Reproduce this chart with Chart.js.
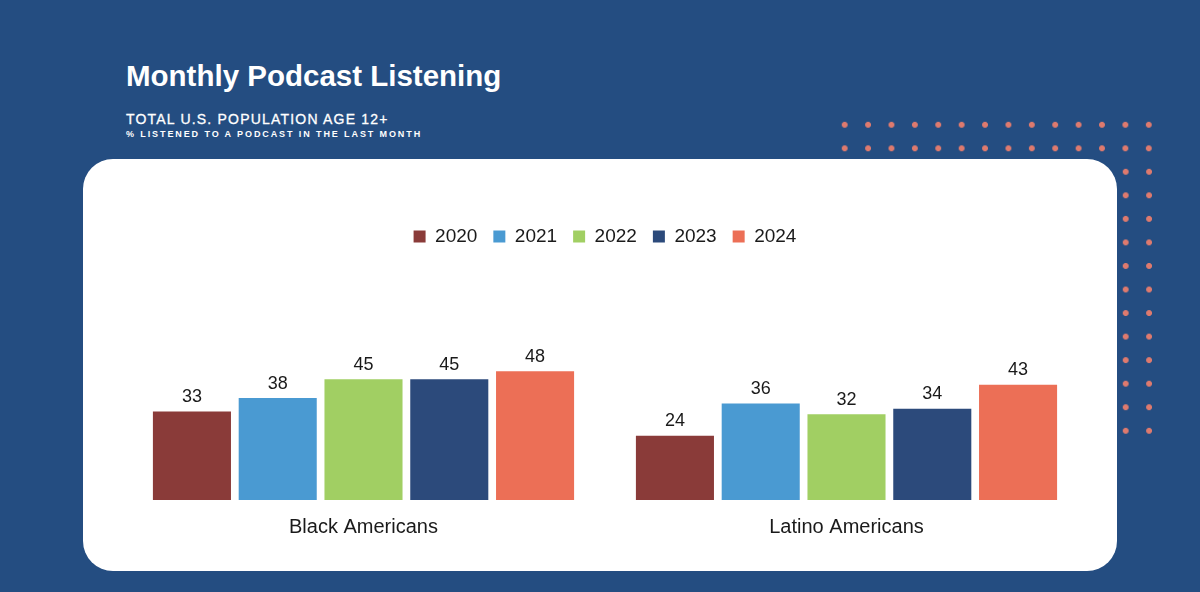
<!DOCTYPE html>
<html>
<head>
<meta charset="utf-8">
<title>Monthly Podcast Listening</title>
<script src="https://cdn.jsdelivr.net/npm/chart.js@4.4.1/dist/chart.umd.min.js"></script>
<style>
  html, body { margin: 0; padding: 0; }
  body { width: 1200px; height: 592px; background: #244d81; position: relative; overflow: hidden;
    font-family: "Liberation Sans", Arial, Helvetica, sans-serif; color: #fff; }
  .title { position: absolute; left: 126px; top: 61px; font-size: 29.5px; line-height: 29px; font-weight: bold; margin: 0; white-space: nowrap; }
  .sub1 { position: absolute; left: 126px; top: 112px; font-size: 14px; line-height: 14px; letter-spacing: 1.2px; white-space: nowrap;
    -webkit-text-stroke: 0.3px #fff; }
  .sub2 { position: absolute; left: 126px; top: 130px; font-size: 9px; line-height: 9px; font-weight: bold; letter-spacing: 1.9px; white-space: nowrap; }
  /* decorative dot grid (top two rows + right two columns) */
  .dots { position: absolute; background-image: radial-gradient(circle, #de7a6e 2.6px, rgba(222,122,110,0) 3.3px);
    background-size: 23.4px 23.55px; }
  .dots.top { left: 833.3px; top: 113.3px; width: 327.6px; height: 47.1px; }
  .dots.side { left: 1114.3px; top: 160.4px; width: 46.8px; height: 282.6px; }
  .card { position: absolute; left: 83px; top: 159px; width: 1034px; height: 412px; background: #fff; border-radius: 30px; }
  .card canvas { position: absolute; left: 0; top: 0; }
</style>
</head>
<body>
  <h1 class="title">Monthly Podcast Listening</h1>
  <div class="sub1">TOTAL U.S. POPULATION AGE 12+</div>
  <div class="sub2">% LISTENED TO A PODCAST IN THE LAST MONTH</div>
  <div class="dots top"></div>
  <div class="dots side"></div>
  <div class="card"><canvas id="chartPodcast" width="1034" height="412"></canvas></div>

<script>
(function () {
  // ---------- data ----------
  var CATEGORIES = ['Black Americans', 'Latino Americans'];
  var YEARS = ['2020', '2021', '2022', '2023', '2024'];
  var V2020 = [33, 24];
  var V2021 = [38, 36];
  var V2022 = [45, 32];
  var V2023 = [45, 34];
  var V2024 = [48, 43];
  var COLORS = ['#8a3b39', '#4a9ad2', '#a1cf63', '#2c4a7b', '#ec6f56'];
  var SERIES = [V2020, V2021, V2022, V2023, V2024];

  var FONT = '"Liberation Sans", Arial, Helvetica, sans-serif';
  var INK = '#1a1a1a';

  // value labels above each bar
  var valueLabels = {
    id: 'valueLabels',
    afterDatasetsDraw: function (chart) {
      var ctx = chart.ctx;
      ctx.save();
      ctx.font = '18px ' + FONT;
      ctx.fillStyle = INK;
      ctx.textAlign = 'center';
      ctx.textBaseline = 'alphabetic';
      chart.data.datasets.forEach(function (ds, i) {
        chart.getDatasetMeta(i).data.forEach(function (bar, j) {
          ctx.fillText(String(ds.data[j]), bar.x, bar.y - 9.5);
        });
      });
      ctx.restore();
    }
  };

  function init() {
    Chart.defaults.font.family = FONT;
    Chart.defaults.color = INK;

    var datasets = YEARS.map(function (y, i) {
      return { label: y, data: SERIES[i], backgroundColor: COLORS[i], borderWidth: 0 };
    });

    new Chart(document.getElementById('chartPodcast').getContext('2d'), {
      type: 'bar',
      data: { labels: CATEGORIES, datasets: datasets },
      plugins: [valueLabels],
      options: {
        responsive: false,
        animation: false,
        categoryPercentage: 0.888,
        barPercentage: 0.91,
        layout: { padding: { top: 52, right: 29, bottom: 17, left: 39 } },
        plugins: {
          legend: {
            position: 'top',
            labels: { font: { size: 19 }, boxWidth: 12, boxHeight: 12, padding: 16, color: INK }
          },
          tooltip: { enabled: false }
        },
        scales: {
          x: {
            grid: { display: false, drawTicks: false },
            border: { display: false },
            ticks: { font: { size: 20 }, padding: 15, color: INK }
          },
          y: { display: false, min: 0, max: 91 }
        }
      }
    });
  }

  if (document.readyState === 'loading') document.addEventListener('DOMContentLoaded', init);
  else init();
})();
</script>
</body>
</html>
